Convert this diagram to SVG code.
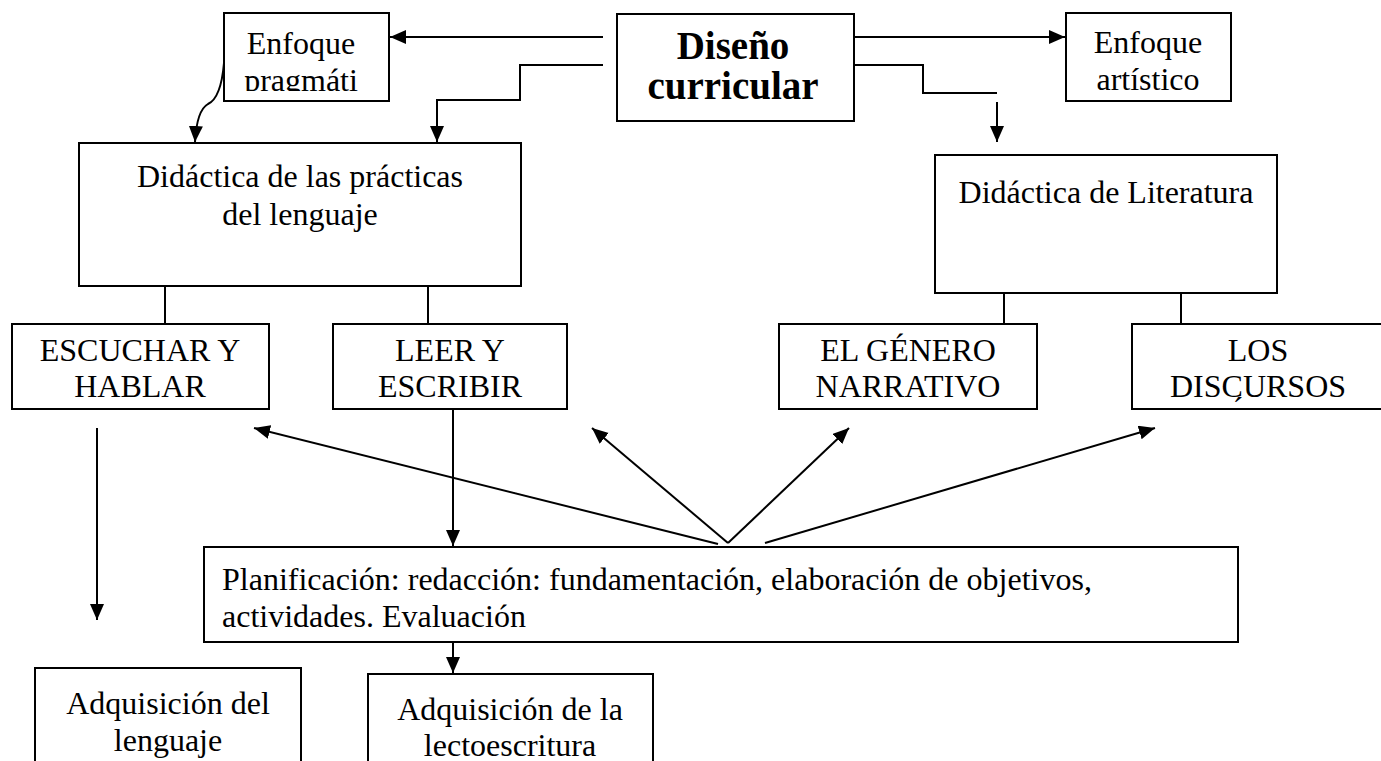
<svg xmlns="http://www.w3.org/2000/svg" width="1381" height="761" viewBox="0 0 1381 761">
<style>
  .box { fill: #ffffff; stroke: #000000; stroke-width: 2; }
  .t { font-family: "Liberation Serif", "Times New Roman", serif; font-size: 32px; fill: #000000; text-anchor: middle; }
  .tl { text-anchor: start; }
  .b { font-weight: bold; font-size: 39px; }
  .c { fill: none; stroke: #000000; stroke-width: 2; }
  .ca { fill: none; stroke: #000000; stroke-width: 2; marker-end: url(#ah); }
</style>
<defs>
  <marker id="ah" markerUnits="userSpaceOnUse" markerWidth="17" markerHeight="15" refX="16" refY="7" orient="auto">
    <path d="M0,0 L16,7 L0,14 z" fill="#000000"/>
  </marker>
  <clipPath id="clipPrag"><rect x="224" y="13" width="165" height="78"/></clipPath>
  <clipPath id="clipDisc"><rect x="1132" y="324" width="260" height="78"/></clipPath>
</defs>
<rect width="1381" height="761" fill="#ffffff"/>

<g id="connectors">
  <path class="ca" d="M603,37 H390"/>
  <path class="ca" d="M603,65 H520 V100 H437 V142"/>
  <path class="ca" d="M224,63 C222,86 217,100 208,104 C199,109 196,124 195,142"/>
  <path class="ca" d="M854,37 H1065"/>
  <path class="c" d="M854,65 H923 V93 H997"/>
  <path class="ca" d="M997,102 V142"/>
  <path class="c" d="M165,286 V324"/>
  <path class="c" d="M428,286 V324"/>
  <path class="c" d="M1004,293 V324"/>
  <path class="c" d="M1181,293 V324"/>
  <path class="ca" d="M453,409 V546"/>
  <path class="ca" d="M97,428 V620"/>
  <path class="ca" d="M718,544 L254,428"/>
  <path class="ca" d="M728,543 L592,428"/>
  <path class="ca" d="M728,543 L849,428"/>
  <path class="ca" d="M765,543 L1155,428"/>
  <path class="ca" d="M453,642 V673"/>
</g>

<g id="n-diseno">
  <rect class="box" x="617" y="14" width="237" height="107"/>
  <text class="t b" x="733" y="59">Diseño</text>
  <text class="t b" x="733" y="99">curricular</text>
</g>

<g id="n-enfoque-pragmatico">
  <rect class="box" x="224" y="13" width="165" height="88"/>
  <g clip-path="url(#clipPrag)">
    <text class="t" x="301" y="54">Enfoque</text>
    <text class="t" x="301" y="91">pragmáti</text>
  </g>
</g>

<g id="n-enfoque-artistico">
  <rect class="box" x="1066" y="13" width="165" height="88"/>
  <text class="t" x="1148" y="53">Enfoque</text>
  <text class="t" x="1148" y="90">artístico</text>
</g>

<g id="n-didactica-practicas">
  <rect class="box" x="79" y="143" width="442" height="143"/>
  <text class="t" x="300" y="187">Didáctica de las prácticas</text>
  <text class="t" x="300" y="225">del lenguaje</text>
</g>

<g id="n-didactica-literatura">
  <rect class="box" x="935" y="155" width="342" height="138"/>
  <text class="t" x="1106" y="203">Didáctica de Literatura</text>
</g>

<g id="n-escuchar">
  <rect class="box" x="12" y="324" width="257" height="85"/>
  <text class="t" x="140" y="361">ESCUCHAR Y</text>
  <text class="t" x="140" y="397">HABLAR</text>
</g>

<g id="n-leer">
  <rect class="box" x="333" y="324" width="234" height="85"/>
  <text class="t" x="450" y="361">LEER Y</text>
  <text class="t" x="450" y="397">ESCRIBIR</text>
</g>

<g id="n-genero">
  <rect class="box" x="779" y="324" width="258" height="85"/>
  <text class="t" x="908" y="361">EL GÉNERO</text>
  <text class="t" x="908" y="397">NARRATIVO</text>
</g>

<g id="n-discursos">
  <rect class="box" x="1132" y="324" width="270" height="85"/>
  <text class="t" x="1258" y="361">LOS</text>
  <text class="t" x="1258" y="397">DISCURSOS</text>
  <g clip-path="url(#clipDisc)">
    <text class="t" x="1238" y="419">´</text>
  </g>
</g>

<g id="n-planificacion">
  <rect class="box" x="204" y="547" width="1034" height="95"/>
  <text class="t tl" x="222" y="590">Planificación: redacción: fundamentación, elaboración de objetivos,</text>
  <text class="t tl" x="222" y="627">actividades. Evaluación</text>
</g>

<g id="n-adq-lenguaje">
  <rect class="box" x="35" y="668" width="266" height="140"/>
  <text class="t" x="168" y="714">Adquisición del</text>
  <text class="t" x="168" y="751">lenguaje</text>
</g>

<g id="n-adq-lectoescritura">
  <rect class="box" x="368" y="674" width="285" height="140"/>
  <text class="t" x="510" y="720">Adquisición de la</text>
  <text class="t" x="510" y="756">lectoescritura</text>
</g>
</svg>
